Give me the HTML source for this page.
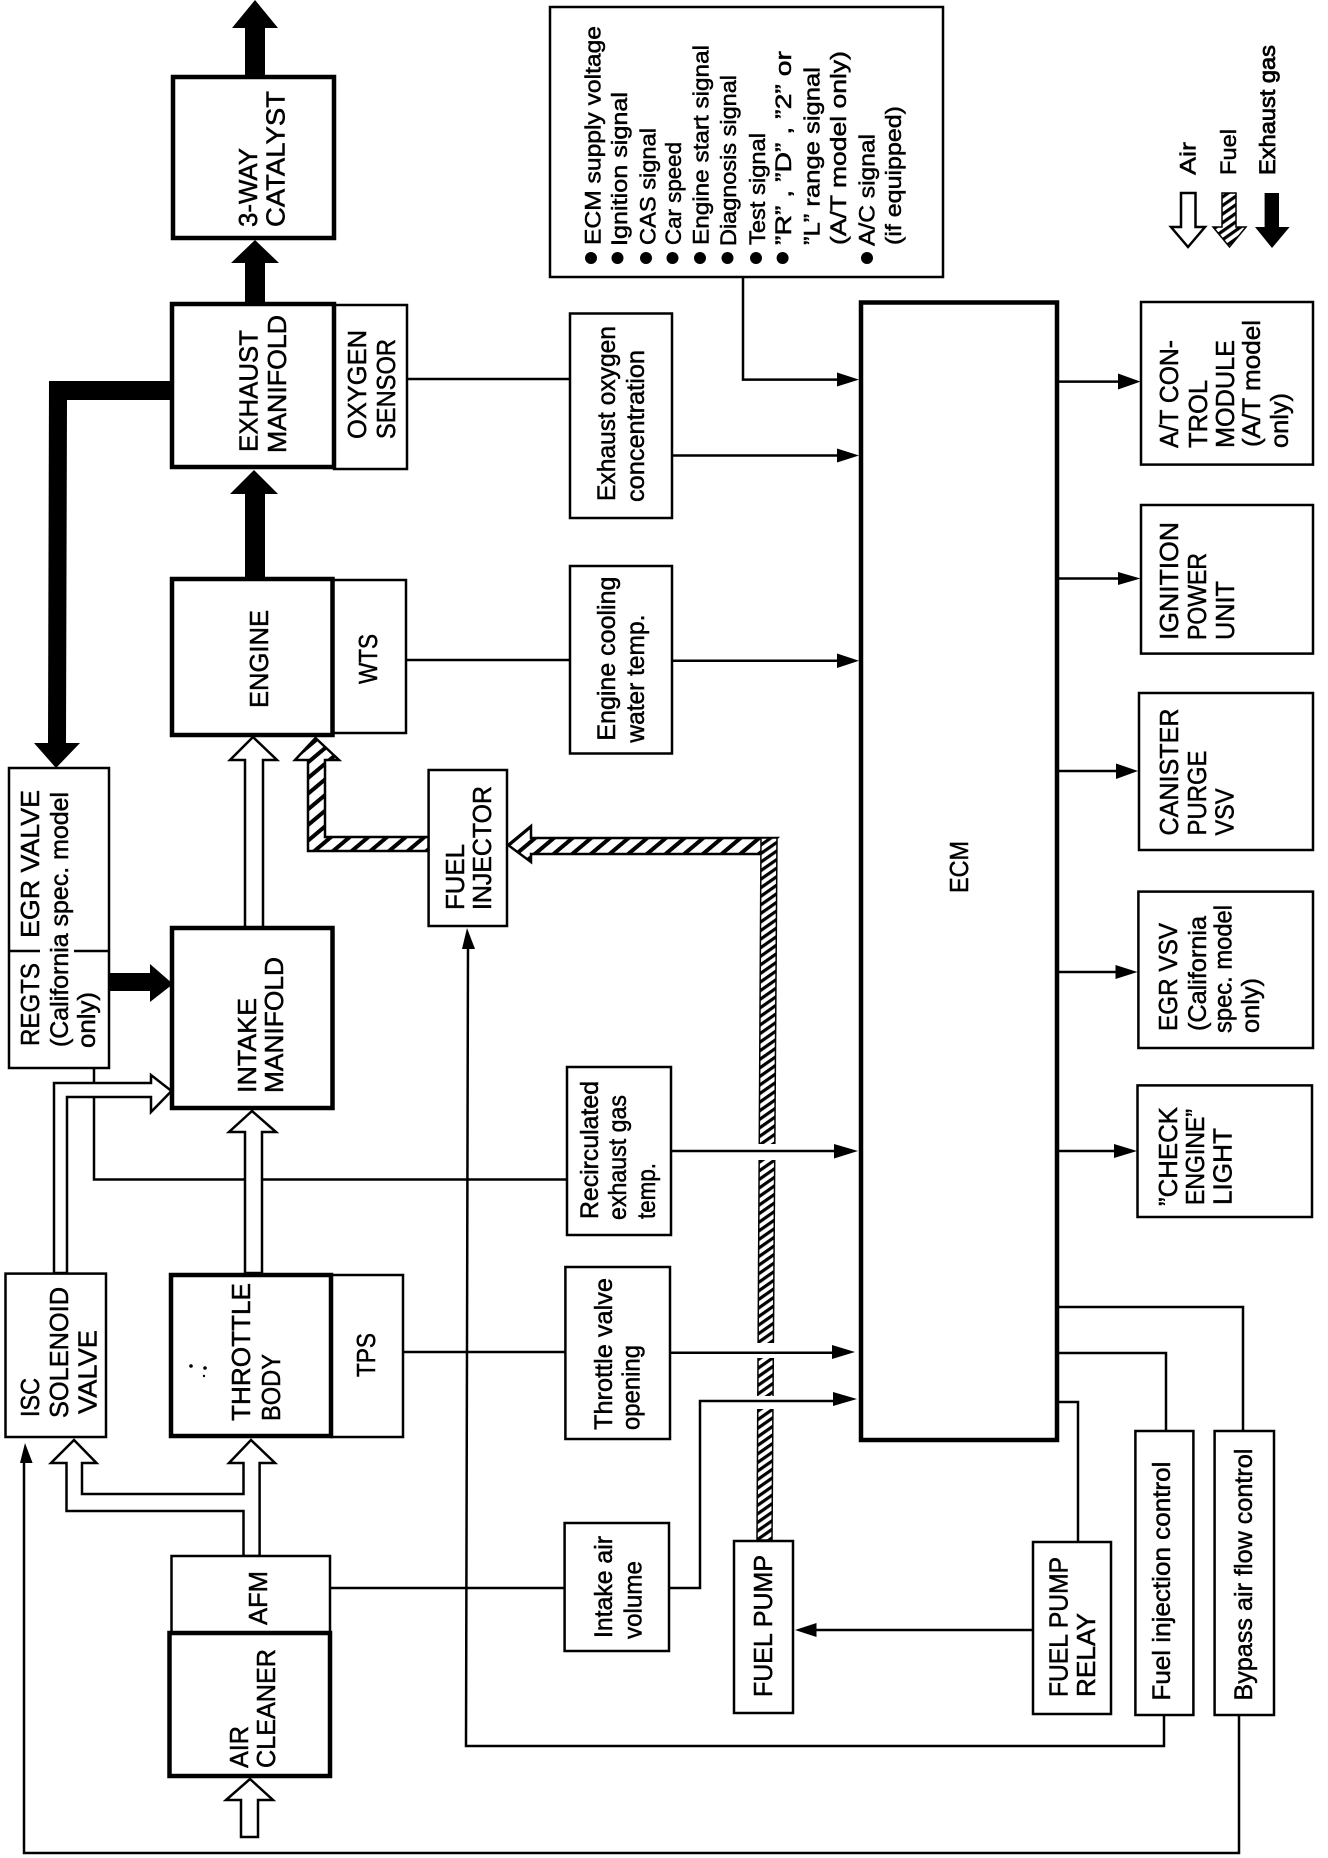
<!DOCTYPE html>
<html><head><meta charset="utf-8"><style>
html,body{margin:0;padding:0;background:#fff;width:1328px;height:1858px;overflow:hidden}
svg{display:block}
text{font-family:"Liberation Sans",sans-serif;fill:#000;stroke:#000;stroke-width:.5}
.c{font-size:26px}.l{font-size:25px}.b{font-size:22px}
.box{fill:#fff;stroke:#000;stroke-width:2.5}
.hv{fill:#fff;stroke:#000;stroke-width:4.5}
.ln{fill:none;stroke:#000;stroke-width:2.5}
.air{fill:#fff;stroke:#000;stroke-width:2.5;stroke-linejoin:miter}
.ah{fill:#000;stroke:none}
</style></head><body>
<svg width="1328" height="1858" viewBox="0 0 1328 1858" xmlns="http://www.w3.org/2000/svg">
<defs>
<pattern id="hH" patternUnits="userSpaceOnUse" width="12" height="12" patternTransform="rotate(-40)"><rect width="12" height="12" fill="#fff"/><rect width="12" height="4" fill="#000"/></pattern>
<pattern id="hV" patternUnits="userSpaceOnUse" width="7" height="7" patternTransform="rotate(-35)"><rect width="7" height="7" fill="#fff"/><rect width="7" height="3.2" fill="#000"/></pattern>
</defs>
<rect width="1328" height="1858" fill="#fff"/>

<!-- black exhaust arrows -->
<polygon class="ah" points="255,0 278,28 265,28 265,80 245,80 245,28 232,28"/>
<polygon class="ah" points="255,240 279,263 265,263 265,305 245,305 245,263 231,263"/>
<polygon class="ah" points="254,470 278,494 265,494 265,580 245,580 245,494 230,494"/>
<polygon class="ah" points="49,381 174,381 174,400 67,400 66,743 80,743 56,768 34,743 48,743"/>
<polygon class="ah" points="108,973 150,973 150,964 173,984 150,1002 150,991 108,991"/>

<!-- fuel pipes -->
<polygon points="315.500,738 339,760 325,760 325,837 428.600,837 428.600,851 308,851 308,760 295,760" fill="url(#hH)" stroke="#000" stroke-width="2.500"/>
<polygon points="508,845 531,826 531,838 777,838 761,854 531,854 531,862" fill="url(#hH)" stroke="#000" stroke-width="2.500"/>
<polygon points="761,838 777,838 772,1540 757,1540" fill="url(#hV)" stroke="#000" stroke-width="1.500"/>
<rect x="750" y="1144" width="34" height="16" fill="#fff"/>
<rect x="750" y="1343" width="34" height="15" fill="#fff"/>
<rect x="750" y="1396" width="34" height="13" fill="#fff"/>

<!-- signal lines -->
<path class="ln" d="M407 379H570M743 278V379.600H840M672 455.500H840M406 660H570M672 660.700H840M94 1068V1179.500H568M671 1151H836M403 1352H566M670 1352.700H835M330 1588H565M669 1588H700V1401H836"/>
<path class="ln" d="M1058 381.600H1120M1058 578.500H1120M1058 771H1118M1058 972H1117M1058 1151H1116"/>
<path class="ln" d="M1057 1307H1243V1431M1057 1353H1166V1431M1057 1402H1078V1542M1033 1630H815"/>
<path class="ln" d="M468 945L466 1746H1164V1715M24 1460V1853H1239V1715"/>

<!-- arrowheads -->
<polygon class="ah" points="859,379.600 837,372.500 837,386.500"/>
<polygon class="ah" points="859,455.500 837,448.500 837,462.500"/>
<polygon class="ah" points="859,660.700 837,653.500 837,668"/>
<polygon class="ah" points="858,1151 834,1144 834,1158.500"/>
<polygon class="ah" points="855,1352 832,1345 832,1359"/>
<polygon class="ah" points="857,1399 833,1392 833,1406"/>
<polygon class="ah" points="1140.500,381.600 1118,373.500 1118,389.500"/>
<polygon class="ah" points="1140.500,578.500 1118,572 1118,585"/>
<polygon class="ah" points="1138,771 1116,763.500 1116,779"/>
<polygon class="ah" points="1137.500,972 1115.500,965 1115.500,979"/>
<polygon class="ah" points="1137,1151 1114,1144 1114,1158"/>
<polygon class="ah" points="795,1630 816.500,1623 816.500,1637"/>
<polygon class="ah" points="467,928 475,949 462,949"/>
<polygon class="ah" points="25,1443 32.600,1463 20,1463"/>

<!-- air arrows -->
<polygon class="air" points="253,737 277,760 263,760 263,928 245,928 245,760 230,760"/>
<polygon class="air" points="54,1273 54,1083 151,1083 151,1075 171.500,1091 151,1112 151,1097 67,1097 67,1273"/>
<polygon class="air" points="252,1111 276,1132 262,1132 262,1273 245,1273 245,1132 229,1132"/>
<polygon class="air" points="74,1440 96.500,1463 82,1463 82,1494 243.500,1494 243.500,1463 229,1463 251,1440 275,1463 259.600,1463 259.600,1556 243.500,1556 243.500,1511 66.500,1511 66.500,1463 51,1463"/>
<polygon class="air" points="250,1779 273,1800 258,1800 258,1837 241,1837 241,1800 226,1800"/>

<!-- boxes -->
<rect class="box" x="550" y="7" width="393" height="270"/>
<rect class="hv" x="173" y="77" width="161" height="161"/>
<rect class="box" x="334" y="305" width="73" height="164"/>
<rect class="hv" x="172" y="304" width="162" height="163"/>
<rect class="box" x="570" y="313.500" width="102" height="204.500"/>
<rect class="box" x="332" y="580" width="74" height="153"/>
<rect class="hv" x="172" y="579" width="160.500" height="156"/>
<rect class="box" x="570" y="566" width="102" height="187.500"/>
<rect class="box" x="428.600" y="770" width="78.400" height="156"/>
<rect class="box" x="9" y="768" width="100" height="300"/>
<path d="M9 951H40M74 951H109" class="ln"/>
<rect class="hv" x="172" y="928" width="160.500" height="180"/>
<rect class="box" x="567" y="1067" width="104" height="168"/>
<rect class="box" x="5.500" y="1273.600" width="100.500" height="163.400"/>
<rect class="box" x="331" y="1275" width="72" height="162"/>
<rect class="hv" x="171" y="1275" width="160" height="161"/>
<rect class="box" x="565.400" y="1267" width="104.600" height="172"/>
<rect class="box" x="564.600" y="1523" width="104.400" height="128"/>
<rect class="box" x="171.500" y="1556" width="158.500" height="77"/>
<rect class="hv" x="169.500" y="1633" width="160.500" height="143"/>
<rect class="box" x="734" y="1541" width="59" height="172"/>
<rect class="box" x="1033" y="1542" width="78" height="172"/>
<rect class="box" x="1135.400" y="1431" width="58" height="284"/>
<rect class="box" x="1214.600" y="1431" width="59.400" height="284"/>
<rect class="hv" x="861" y="302.500" width="196" height="1137.500"/>
<rect class="box" x="1141" y="302" width="172" height="162.600"/>
<rect class="box" x="1141" y="505" width="172" height="148.600"/>
<rect class="box" x="1139" y="693" width="174" height="157"/>
<rect class="box" x="1138.400" y="891.600" width="174.600" height="156.400"/>
<rect class="box" x="1137.500" y="1085.400" width="174.500" height="131.600"/>

<!-- box labels -->
<g class="c">
<text transform="translate(257 227) rotate(-90)" textLength="79" lengthAdjust="spacingAndGlyphs">3-WAY</text>
<text transform="translate(284.600 227) rotate(-90)" textLength="136" lengthAdjust="spacingAndGlyphs">CATALYST</text>
<text transform="translate(257.500 452) rotate(-90)" textLength="122" lengthAdjust="spacingAndGlyphs">EXHAUST</text>
<text transform="translate(286 453) rotate(-90)" textLength="138" lengthAdjust="spacingAndGlyphs">MANIFOLD</text>
<text transform="translate(366 439) rotate(-90)" textLength="109" lengthAdjust="spacingAndGlyphs">OXYGEN</text>
<text transform="translate(395 439) rotate(-90)" textLength="100" lengthAdjust="spacingAndGlyphs">SENSOR</text>
<text transform="translate(268 708) rotate(-90)" textLength="98" lengthAdjust="spacingAndGlyphs">ENGINE</text>
<text transform="translate(377 684) rotate(-90)" textLength="50" lengthAdjust="spacingAndGlyphs">WTS</text>
<text transform="translate(464 910) rotate(-90)" textLength="66" lengthAdjust="spacingAndGlyphs">FUEL</text>
<text transform="translate(491 910) rotate(-90)" textLength="124" lengthAdjust="spacingAndGlyphs">INJECTOR</text>
<text transform="translate(39 938) rotate(-90)" textLength="148" lengthAdjust="spacingAndGlyphs">EGR VALVE</text>
<text transform="translate(39 1046) rotate(-90)" textLength="83" lengthAdjust="spacingAndGlyphs">REGTS</text>
<text transform="translate(256 1093) rotate(-90)" textLength="95" lengthAdjust="spacingAndGlyphs">INTAKE</text>
<text transform="translate(283 1093) rotate(-90)" textLength="136" lengthAdjust="spacingAndGlyphs">MANIFOLD</text>
<text transform="translate(250 1421) rotate(-90)" textLength="138" lengthAdjust="spacingAndGlyphs">THROTTLE</text>
<text transform="translate(280 1421) rotate(-90)" textLength="67" lengthAdjust="spacingAndGlyphs">BODY</text>
<text transform="translate(375 1377) rotate(-90)" textLength="44" lengthAdjust="spacingAndGlyphs">TPS</text>
<text transform="translate(39 1417) rotate(-90)" textLength="39" lengthAdjust="spacingAndGlyphs">ISC</text>
<text transform="translate(68 1418) rotate(-90)" textLength="131" lengthAdjust="spacingAndGlyphs">SOLENOID</text>
<text transform="translate(96.500 1414) rotate(-90)" textLength="84" lengthAdjust="spacingAndGlyphs">VALVE</text>
<text transform="translate(267 1625) rotate(-90)" textLength="54" lengthAdjust="spacingAndGlyphs">AFM</text>
<text transform="translate(248 1768) rotate(-90)" textLength="42" lengthAdjust="spacingAndGlyphs">AIR</text>
<text transform="translate(275 1768) rotate(-90)" textLength="119" lengthAdjust="spacingAndGlyphs">CLEANER</text>
<text transform="translate(772 1697) rotate(-90)" textLength="142" lengthAdjust="spacingAndGlyphs">FUEL PUMP</text>
<text transform="translate(1067.600 1697) rotate(-90)" textLength="140" lengthAdjust="spacingAndGlyphs">FUEL PUMP</text>
<text transform="translate(1095 1697) rotate(-90)" textLength="84" lengthAdjust="spacingAndGlyphs">RELAY</text>
<text transform="translate(968 893) rotate(-90)" textLength="52" lengthAdjust="spacingAndGlyphs">ECM</text>
<text transform="translate(1178 448) rotate(-90)" textLength="108" lengthAdjust="spacingAndGlyphs">A/T CON-</text>
<text transform="translate(1207 448) rotate(-90)" textLength="68" lengthAdjust="spacingAndGlyphs">TROL</text>
<text transform="translate(1234 448) rotate(-90)" textLength="108" lengthAdjust="spacingAndGlyphs">MODULE</text>
<text transform="translate(1178 640) rotate(-90)" textLength="118" lengthAdjust="spacingAndGlyphs">IGNITION</text>
<text transform="translate(1206 640) rotate(-90)" textLength="87" lengthAdjust="spacingAndGlyphs">POWER</text>
<text transform="translate(1234 640) rotate(-90)" textLength="59" lengthAdjust="spacingAndGlyphs">UNIT</text>
<text transform="translate(1178 835.500) rotate(-90)" textLength="127" lengthAdjust="spacingAndGlyphs">CANISTER</text>
<text transform="translate(1206 835.500) rotate(-90)" textLength="85" lengthAdjust="spacingAndGlyphs">PURGE</text>
<text transform="translate(1233.700 835.500) rotate(-90)" textLength="47" lengthAdjust="spacingAndGlyphs">VSV</text>
<text transform="translate(1177 1031) rotate(-90)" textLength="108" lengthAdjust="spacingAndGlyphs">EGR VSV</text>
<text transform="translate(1177 1206) rotate(-90)" textLength="99" lengthAdjust="spacingAndGlyphs">”CHECK</text>
<text transform="translate(1204 1205) rotate(-90)" textLength="96" lengthAdjust="spacingAndGlyphs">ENGINE”</text>
<text transform="translate(1231.600 1205) rotate(-90)" textLength="77" lengthAdjust="spacingAndGlyphs">LIGHT</text>
</g>
<g class="l">
<text transform="translate(615 501) rotate(-90)" textLength="175" lengthAdjust="spacingAndGlyphs">Exhaust oxygen</text>
<text transform="translate(644 502) rotate(-90)" textLength="152" lengthAdjust="spacingAndGlyphs">concentration</text>
<text transform="translate(615 740.600) rotate(-90)" textLength="164" lengthAdjust="spacingAndGlyphs">Engine cooling</text>
<text transform="translate(644 742.600) rotate(-90)" textLength="128" lengthAdjust="spacingAndGlyphs">water temp.</text>
<text transform="translate(68 1047) rotate(-90)" textLength="255" lengthAdjust="spacingAndGlyphs">(California spec. model</text>
<text transform="translate(95 1048) rotate(-90)" textLength="56" lengthAdjust="spacingAndGlyphs">only)</text>
<text transform="translate(598 1219) rotate(-90)" textLength="138" lengthAdjust="spacingAndGlyphs">Recirculated</text>
<text transform="translate(626 1220) rotate(-90)" textLength="125" lengthAdjust="spacingAndGlyphs">exhaust gas</text>
<text transform="translate(655 1219) rotate(-90)" textLength="56" lengthAdjust="spacingAndGlyphs">temp.</text>
<text transform="translate(612 1430) rotate(-90)" textLength="152" lengthAdjust="spacingAndGlyphs">Throttle valve</text>
<text transform="translate(639.600 1430) rotate(-90)" textLength="85" lengthAdjust="spacingAndGlyphs">opening</text>
<text transform="translate(612 1638) rotate(-90)" textLength="102" lengthAdjust="spacingAndGlyphs">Intake air</text>
<text transform="translate(641.600 1639) rotate(-90)" textLength="78" lengthAdjust="spacingAndGlyphs">volume</text>
<text transform="translate(1170 1700.600) rotate(-90)" textLength="239" lengthAdjust="spacingAndGlyphs">Fuel injection control</text>
<text transform="translate(1252 1700.600) rotate(-90)" textLength="252" lengthAdjust="spacingAndGlyphs">Bypass air flow control</text>
<text transform="translate(1260 447) rotate(-90)" textLength="127" lengthAdjust="spacingAndGlyphs">(A/T model</text>
<text transform="translate(1288 448) rotate(-90)" textLength="55" lengthAdjust="spacingAndGlyphs">only)</text>
<text transform="translate(1206 1031) rotate(-90)" textLength="115" lengthAdjust="spacingAndGlyphs">(California</text>
<text transform="translate(1231.600 1033) rotate(-90)" textLength="128" lengthAdjust="spacingAndGlyphs">spec. model</text>
<text transform="translate(1259 1033) rotate(-90)" textLength="55" lengthAdjust="spacingAndGlyphs">only)</text>
</g>

<!-- top signal list -->
<g fill="#000">
<circle cx="591" cy="258" r="6"/><circle cx="617.500" cy="258" r="6"/><circle cx="646" cy="258" r="6"/><circle cx="672.500" cy="258" r="6"/><circle cx="700" cy="258" r="6"/><circle cx="727.500" cy="258" r="6"/><circle cx="756" cy="258" r="6"/><circle cx="782.600" cy="258" r="6"/><circle cx="867" cy="258" r="6"/>
<circle cx="191" cy="1366" r="1.800"/><circle cx="205" cy="1368" r="1.800"/><circle cx="204" cy="1376" r="1.200"/>
</g>
<g class="b">
<text transform="translate(600.600 245) rotate(-90)" textLength="219" lengthAdjust="spacingAndGlyphs">ECM supply voltage</text>
<text transform="translate(627 246) rotate(-90)" textLength="154" lengthAdjust="spacingAndGlyphs">Ignition signal</text>
<text transform="translate(655.600 245) rotate(-90)" textLength="117" lengthAdjust="spacingAndGlyphs">CAS signal</text>
<text transform="translate(681 245) rotate(-90)" textLength="103" lengthAdjust="spacingAndGlyphs">Car speed</text>
<text transform="translate(708.500 245) rotate(-90)" textLength="200" lengthAdjust="spacingAndGlyphs">Engine start signal</text>
<text transform="translate(736 246) rotate(-90)" textLength="171" lengthAdjust="spacingAndGlyphs">Diagnosis signal</text>
<text transform="translate(765 245) rotate(-90)" textLength="112" lengthAdjust="spacingAndGlyphs">Test signal</text>
<text transform="translate(791 245) rotate(-90)" textLength="194" lengthAdjust="spacingAndGlyphs">”R” , ”D” , ”2” or</text>
<text transform="translate(819.400 245) rotate(-90)" textLength="178" lengthAdjust="spacingAndGlyphs">”L” range signal</text>
<text transform="translate(846 245) rotate(-90)" textLength="194" lengthAdjust="spacingAndGlyphs">(A/T model only)</text>
<text transform="translate(874.500 246) rotate(-90)" textLength="112" lengthAdjust="spacingAndGlyphs">A/C signal</text>
<text transform="translate(901 245) rotate(-90)" textLength="139" lengthAdjust="spacingAndGlyphs">(if equipped)</text>
<text transform="translate(1195.500 175) rotate(-90)" textLength="33" lengthAdjust="spacingAndGlyphs">Air</text>
<text transform="translate(1236 175) rotate(-90)" textLength="46" lengthAdjust="spacingAndGlyphs">Fuel</text>
<text transform="translate(1275 175) rotate(-90)" textLength="130" lengthAdjust="spacingAndGlyphs" style="stroke-width:.8">Exhaust gas</text>
</g>

<!-- legend arrows -->
<polygon class="air" points="1181,193 1195.500,193 1195.500,227 1205,227 1188,247 1171,227 1181,227"/>
<polygon points="1222,193 1236,193 1236,227 1246,227 1229.500,247 1213,227 1222,227" fill="url(#hV)" stroke="#000" stroke-width="1.500"/>
<polygon class="ah" points="1264.600,193 1279,193 1279,227 1289.600,227 1272,248 1255,227 1264.600,227"/>
</svg>
</body></html>
